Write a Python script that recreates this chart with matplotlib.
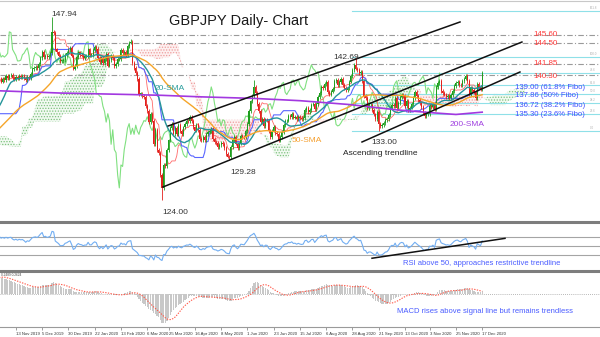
import numpy as np
import pandas as pd
import matplotlib
matplotlib.use("Agg")
import matplotlib.pyplot as plt
from matplotlib.lines import Line2D

plt.rcParams['font.family'] = ['Liberation Sans', 'DejaVu Sans']
plt.rcParams['hatch.linewidth'] = 0.6

# ---------------- data (daily closes, GBPJPY) ----------------
# history before the visible window (needed only for indicators)
jul19 = [135.6, 135.4, 135.5, 135.9, 135.6, 134.9, 134.0, 134.3, 134.4, 134.8, 134.7, 134.3, 134.6, 134.3, 133.5, 132.3, 132.0, 132.1]
aug19 = [130.8, 129.0, 128.2, 128.7, 128.0, 127.4, 127.5, 128.2, 128.6, 129.0, 129.1, 129.6, 129.7, 130.3, 129.7, 128.6, 129.1, 129.3, 129.0, 129.4, 128.7, 129.1]
sep19 = [128.3, 127.8, 129.4, 130.0, 131.0, 131.6, 132.2, 132.2, 133.0, 133.1, 133.0, 133.9, 133.8, 134.5, 134.4, 133.4, 133.2, 132.6, 132.6, 132.9, 132.9]
oct19a = [132.1, 131.3, 131.6, 131.2, 130.6, 129.9, 130.5, 131.2, 133.6, 137.4, 137.3, 137.5, 138.0, 139.5, 139.5, 139.0, 140.7, 140.2, 139.9, 139.4]
# visible window
oct19b = [139.6, 139.9, 139.5]
nov19 = [139.9, 139.7, 140.2, 140.0, 140.3, 140.4, 140.0, 139.8, 140.1, 139.9, 140.2, 140.1, 140.2, 140.0, 139.7, 140.1, 140.0, 140.5, 141.1, 141.3, 141.4]
dec19 = [141.3, 141.8, 142.6, 143.4, 142.7, 142.9, 142.7, 142.9, 143.2, 146.0, 145.9, 143.7, 143.3, 142.9, 142.2, 142.2, 142.3, 143.0, 143.2, 143.6, 143.9]
jan20 = [142.9, 141.2, 141.5, 142.7, 143.3, 143.0, 142.9, 142.6, 142.8, 142.8, 143.7, 143.0, 143.0, 143.6, 144.0, 143.8, 142.6, 142.0, 142.6, 141.9, 142.4, 143.1]
feb20 = [141.6, 142.3, 142.8, 142.6, 141.5, 141.8, 142.4, 142.5, 143.6, 143.2, 143.4, 143.0, 144.2, 144.6, 144.7, 141.9, 141.3, 140.6, 139.8, 137.9]
mar20 = [137.9, 137.6, 137.5, 136.3, 135.6, 134.2, 135.3, 134.4, 131.3, 133.2, 130.6, 130.2, 127.3, 125.6, 128.6, 128.4, 130.6, 131.8, 133.4, 134.0, 132.6, 133.4]
apr20 = [132.6, 133.8, 133.0, 132.6, 133.5, 133.9, 134.4, 134.3, 134.9, 134.3, 133.5, 133.1, 133.8, 133.2, 132.0, 131.8, 132.3, 131.9, 132.6, 132.9, 133.0, 133.3]
may20 = [132.0, 131.6, 131.5, 131.0, 131.2, 131.5, 131.3, 130.8, 130.0, 129.7, 129.6, 131.0, 131.9, 132.2, 131.4, 130.8, 131.4, 132.4, 132.3, 132.2, 133.0]
jun20 = [134.0, 135.6, 136.9, 137.6, 138.8, 138.0, 136.6, 135.6, 134.2, 134.6, 133.7, 134.5, 134.4, 133.0, 132.3, 133.1, 133.6, 132.8, 132.6, 131.9, 132.2, 132.9]
jul20 = [133.8, 134.3, 134.4, 135.0, 134.9, 135.3, 134.8, 134.9, 134.6, 134.9, 134.7, 134.6, 134.7, 135.8, 136.0, 135.5, 135.8, 136.5, 136.6, 135.9, 136.6, 137.5, 138.0]
aug20 = [138.8, 138.6, 139.2, 139.4, 138.1, 137.8, 138.2, 138.5, 139.6, 139.7, 139.0, 139.4, 139.8, 139.0, 138.7, 138.4, 138.6, 139.5, 140.2, 141.0, 141.7]
sep20 = [141.2, 141.0, 140.6, 140.8, 139.6, 137.6, 137.4, 136.0, 136.4, 136.4, 135.8, 135.2, 134.6, 135.5, 133.9, 133.7, 133.8, 134.1, 134.5, 134.6, 135.1, 136.1]
oct20 = [136.5, 136.3, 137.3, 136.0, 136.7, 137.5, 137.8, 137.6, 136.3, 137.0, 135.8, 136.1, 136.6, 137.3, 138.1, 137.6, 137.1, 136.7, 136.2, 135.4, 135.0, 135.3]
nov20 = [135.3, 136.3, 136.2, 136.6, 135.9, 138.8, 139.3, 139.6, 138.3, 138.0, 137.8, 137.5, 137.6, 137.4, 137.7, 138.3, 138.9, 139.3, 139.4, 139.1, 139.0]
dec20 = [139.6, 139.9, 140.2, 139.6, 137.9, 138.7, 138.4, 138.1, 137.3, 139.2, 138.8, 138.5, 140.6]

holidays = ['2019-12-25', '2020-01-01']
high_marks = {'2019-12-13': 147.94, '2020-02-21': 145.0, '2020-06-05': 139.74,
              '2020-09-01': 142.69, '2020-12-17': 140.9}
low_marks = {'2020-03-19': 124.00, '2020-05-15': 129.28, '2020-09-21': 133.00}

sma200_dates = ['2019-10-29', '2019-12-20', '2020-02-24', '2020-03-19', '2020-04-22', '2020-06-05',
                '2020-07-15', '2020-08-26', '2020-10-06', '2020-11-06', '2020-11-25', '2020-12-17']
sma200_vals = [138.3, 138.0, 137.8, 137.7, 137.5, 137.3, 137.0, 136.5, 135.8, 135.4, 135.2, 135.5]

resist_levels = [145.60, 144.50, 141.85, 140.30]
fib_low, fib_high = 133.00, 142.69
fib_ratios = [0.0, 0.236, 0.382, 0.5, 0.618, 0.786, 1.0, 1.618]
fib_start = '2020-08-28'
fib_label_vals = [139.00, 137.86, 136.72, 135.30]
fib_label_pcts = ['61.8%', '50%', '38.2%', '23.6%']

# analyst trendlines (bar index, value)
upper_channel = ([103.7, 281.5], [133.69, 147.29])
lower_channel = ([100.6, 319.2], [125.72, 144.67])
asc_trend = ([221.8, 318.0], [131.6, 140.75])
rsi_trend = ([227.9, 308.9], [23.4, 66.6])

tick_dates = ['2019-10-22', '2019-11-13', '2019-12-05', '2019-12-30', '2020-01-22', '2020-02-13',
              '2020-03-06', '2020-03-25', '2020-04-16', '2020-05-08', '2020-06-01', '2020-06-23',
              '2020-07-15', '2020-08-06', '2020-08-28', '2020-09-21', '2020-10-13', '2020-11-03',
              '2020-11-25', '2020-12-17']
tick_labels = ['22 Oct 2019', '13 Nov 2019', '5 Dec 2019', '30 Dec 2019', '22 Jan 2020', '13 Feb 2020',
               '6 Mar 2020', '25 Mar 2020', '16 Apr 2020', '8 May 2020', '1 Jun 2020', '23 Jun 2020',
               '15 Jul 2020', '6 Aug 2020', '28 Aug 2020', '21 Sep 2020', '13 Oct 2020', '3 Nov 2020',
               '25 Nov 2020', '17 Dec 2020']

# ---------------- build series ----------------
pre = jul19 + aug19 + sep19 + oct19a
vis = oct19b + nov19 + dec19 + jan20 + feb20 + mar20 + apr20 + may20 + jun20 + jul20 + aug20 + sep20 + oct20 + nov20 + dec20
closes = np.array(pre + vis, dtype=float)
dates = pd.bdate_range('2019-07-08', '2020-12-17').drop(pd.to_datetime(holidays))
assert len(dates) == len(closes), (len(dates), len(closes))
n_pre = len(pre)
xi = np.arange(len(closes)) - n_pre

def idx(d):
    return dates.get_loc(pd.Timestamp(d)) - n_pre

wick = 0.25
opens = np.r_[closes[0], closes[:-1]]
highs = np.maximum(opens, closes) + wick
lows = np.minimum(opens, closes) - wick
for d, v in high_marks.items():
    highs[idx(d) + n_pre] = v
for d, v in low_marks.items():
    lows[idx(d) + n_pre] = v

c = pd.Series(closes)
h = pd.Series(highs)
l = pd.Series(lows)
sma20 = c.rolling(20).mean()
sma50 = c.rolling(50).mean()
tenkan = (h.rolling(9).max() + l.rolling(9).min()) / 2
kijun = (h.rolling(26).max() + l.rolling(26).min()) / 2
spanA = (tenkan + kijun) / 2
spanB = (h.rolling(52).max() + l.rolling(52).min()) / 2

delta = c.diff()
ag = delta.clip(lower=0).ewm(alpha=1 / 14, adjust=False).mean()
al = (-delta.clip(upper=0)).ewm(alpha=1 / 14, adjust=False).mean()
rsi = 100 - 100 / (1 + ag / al)
macd = c.ewm(span=12, adjust=False).mean() - c.ewm(span=26, adjust=False).mean()
signal = macd.rolling(9).mean()

# ---------------- figure ----------------
W, H = 600, 337
fig = plt.figure(figsize=(6, 3.37), dpi=100)
fig.patch.set_facecolor('white')

def ax_rect(top, bottom):
    return [0, 1 - bottom / H, 1, (bottom - top) / H]

ax = fig.add_axes(ax_rect(0, 221))
ax_r = fig.add_axes(ax_rect(223, 269), sharex=ax)
ax_m = fig.add_axes(ax_rect(272, 327), sharex=ax)

x_px0, x_scale = -2.2, 1.642
xmin = (0 - x_px0) / x_scale
xmax = (W - x_px0) / x_scale
ax.set_xlim(xmin, xmax)
ax.set_ylim(147.94 - 204 / 7.65, 147.94 + 17 / 7.65)

vis_mask = xi >= 0

# cloud
xs = xi + 26
A = spanA.values
B = spanB.values
ok = ~np.isnan(B)
ax.fill_between(xs[ok], A[ok], B[ok], where=A[ok] >= B[ok], interpolate=True,
                facecolor='#f1f9f1', edgecolor='#7cc27c', hatch='......', linewidth=0, zorder=1)
ax.fill_between(xs[ok], A[ok], B[ok], where=A[ok] < B[ok], interpolate=True,
                facecolor='#fdf0f0', edgecolor='#ee9c9c', hatch='......', linewidth=0, zorder=1)

# horizontal levels
for lv in resist_levels:
    ax.axhline(lv, color='#9a9a9a', lw=0.8, dashes=(5, 2, 1, 2), zorder=2)
fib_levels = [fib_low + r * (fib_high - fib_low) for r in fib_ratios]
fs_i = idx(fib_start)
for r, lv in zip(fib_ratios, fib_levels):
    ax.plot([fs_i, xmax], [lv, lv], color='#8fe0e8', lw=0.8, zorder=2)
    ax.text(xmax - 6, lv + 0.12, f"{r*100:.1f}", fontsize=2.2, color='#b0b0b0', ha='left', va='bottom', zorder=2)

# indicator lines
ax.plot(xi - 26, closes, color='#80e080', lw=0.8, zorder=3)  # chikou
ax.plot(xi[vis_mask], tenkan.values[vis_mask], color='#ff6a6a', lw=0.6, zorder=3)
ax.plot(xi[vis_mask], kijun.values[vis_mask], color='#5a66ff', lw=0.8, zorder=3)
ax.plot(xi[vis_mask], sma20.values[vis_mask], color='#25959a', lw=1.0, zorder=4)
ax.plot(xi[vis_mask], sma50.values[vis_mask], color='#f5a52a', lw=1.0, zorder=4)
ax.plot([idx(d) for d in sma200_dates], sma200_vals, color='#a238e0', lw=1.2, zorder=4)

# candles
v = vis_mask
up = closes >= opens
for m, col in ((v & up, '#1f9e1f'), (v & ~up, '#e3211d')):
    ax.vlines(xi[m], lows[m], highs[m], color=col, lw=0.6, zorder=3.5)
    ax.bar(xi[m], np.maximum(np.abs(closes[m] - opens[m]), 0.08),
           bottom=np.minimum(closes[m], opens[m]), width=0.65, color=col, lw=0, zorder=3.5)

# trendlines
for tl in (upper_channel, lower_channel, asc_trend):
    ax.plot(tl[0], tl[1], color='#111111', lw=1.1, zorder=5)

for a in (ax, ax_r, ax_m):
    for s in a.spines.values():
        s.set_visible(False)
    a.tick_params(left=False, labelleft=False, bottom=False, labelbottom=False)

# RSI
ax_r.set_ylim(0, 100)
for lv in (30, 50, 70):
    ax_r.axhline(lv, color='#a5a5a5', lw=0.8, zorder=1)
ax_r.plot(xi[v], rsi.values[v], color='#72aef2', lw=0.8, zorder=3)
ax_r.plot(rsi_trend[0], rsi_trend[1], color='#111111', lw=1.1, zorder=4)

# MACD
mv = macd.values[v]
mn = np.nanmin(mv)
ax_m.set_ylim(mn * 33 / 29, -mn * 22 / 29)
ax_m.bar(xi[v], mv, width=0.7, color='#c8c8c8', lw=0, zorder=2)
ax_m.axhline(0, color='#a0a0a0', lw=0.6, ls=(0, (1, 1.5)), zorder=1)
ax_m.plot(xi[v], signal.values[v], color='#ff5a4a', lw=0.8, ls=(0, (1.2, 1.2)), zorder=3)
ax_m.spines['bottom'].set_visible(True)
ax_m.spines['bottom'].set_color('#9a9a9a')
ax_m.spines['bottom'].set_linewidth(0.8)
ax_m.set_xticks([idx(d) for d in tick_dates])
ax_m.set_xticklabels(tick_labels)
ax_m.tick_params(bottom=True, labelbottom=True, length=2, width=0.5, color='#777777',
                 labelsize=3.1, labelcolor='#333333', pad=1.5)
for lab in ax_m.get_xticklabels():
    lab.set_ha('left')
ax_m.set_xlim(xmin, xmax)

# separators
for yy, lw in ((0.5, 0.8), (221.5, 2.2), (270.5, 2.2)):
    fig.add_artist(Line2D([0, 1], [1 - yy / H, 1 - yy / H], transform=fig.transFigure,
                          color='#7d7d7d' if lw > 1 else '#c8c8c8', lw=lw))

# ---------------- texts ----------------
def ftext(xp, yp, s, **kw):
    fig.text(xp / W, 1 - yp / H, s, va='baseline', ha='left', **kw)

ftext(169, 25, 'GBPJPY Daily- Chart', fontsize=10.5, color='#1a1a1a')
ftext(51, 16, '147.94', fontsize=6, color='#333333')
ftext(333, 59, '142.69', fontsize=6, color='#333333')
ftext(230, 174, '129.28', fontsize=6, color='#333333')
ftext(162, 214, '124.00', fontsize=6, color='#333333')
ftext(371, 144, '133.00', fontsize=6, color='#333333')
ftext(343, 155, 'Ascending trendline', fontsize=6, color='#222222')
ftext(155, 90, '20-SMA', fontsize=6, color='#2a9d9d')
ftext(292, 142, '50-SMA', fontsize=6, color='#f5a030')
ftext(450, 126, '200-SMA', fontsize=6, color='#a040e0')

red_base = [36, 45, 65, 78]
for lv, yb in zip(resist_levels, red_base):
    ftext(533, yb, f"{lv:.2f}", fontsize=5.7, color='#ff3a3a')

fib_base = [89, 97, 107, 116]
for lv, pct, yb in zip(fib_label_vals, fib_label_pcts, fib_base):
    ftext(515, yb, f"{lv:.2f} ({pct} Fibo)", fontsize=5.6, color='#3e50ff')

ftext(403, 265, 'RSI above 50, approaches restrictive trendline', fontsize=5.5, color='#4a5cff')
ftext(397, 313, 'MACD rises above signal line but remains trendless', fontsize=5.5, color='#4a5cff')
ftext(1, 276, '0.2489 0.2624', fontsize=2.3, color='#444444')

fig.savefig('out.png', dpi=100)
